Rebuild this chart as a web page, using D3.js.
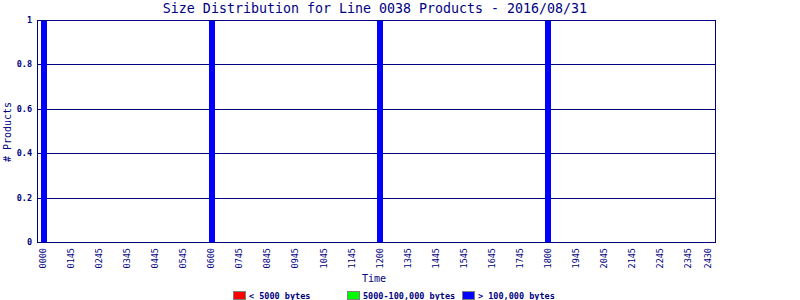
<!DOCTYPE html>
<html lang="en">
<head>
<meta charset="UTF-8">
<title>Size Distribution</title>
<script src="https://cdn.jsdelivr.net/npm/d3@7"></script>
<style>
  body { margin: 0; background: #fff; }
  text { font-family: "DejaVu Sans Mono", monospace; fill: #000080; }
</style>
</head>
<body>
<svg id="chart" width="800" height="300"></svg>
<script>
// tick labels along the time axis and the slot each one sits in
var tickLabels = ["0000","0145","0245","0345","0445","0545","0600","0745","0845","0945",
                  "1045","1145","1200","1345","1445","1545","1645","1745","1800","1945",
                  "2045","2145","2245","2345","2430"];
var tickSlots = [0,1,2,3,4,5,6,7,8,9,10,11,12,13,14,15,16,17,18,19,20,21,22,23,23.72];

// products per time slot, one array per size class
var barTimes = ["0000","0600","1200","1800"];
var small = [0,0,0,0];      // < 5000 bytes
var medium = [0,0,0,0];     // 5000-100,000 bytes
var large = [1,1,1,1];      // > 100,000 bytes

var legendNames = ["< 5000 bytes","5000-100,000 bytes","> 100,000 bytes"];
var legendColors = ["#ff0000","#00ff00","#0000ff"];
var yTicks = [0,0.2,0.4,0.6,0.8,1];

var navy = "#000080";
var svg = d3.select("#chart");
var plotLeft = 37, plotRight = 715, plotTop = 20, plotBottom = 242;

var x = d3.scaleLinear().domain([-0.24, 23.95]).range([plotLeft, plotRight]);
var y = d3.scaleLinear().domain([0, 1]).range([plotBottom, plotTop]);

// title
svg.append("text")
  .attr("x", 375).attr("y", 13)
  .attr("text-anchor", "middle")
  .style("font-size", "13.3px")
  .text("Size Distribution for Line 0038 Products - 2016/08/31");

// gridlines
svg.append("g").selectAll("line")
  .data(yTicks.filter(function(d){ return d > 0 && d < 1; }))
  .enter().append("line")
  .attr("x1", plotLeft).attr("x2", plotRight)
  .attr("y1", function(d){ return Math.round(y(d)) + 0.5; })
  .attr("y2", function(d){ return Math.round(y(d)) + 0.5; })
  .attr("stroke", navy).attr("stroke-width", 1);

// stacked bars
var rows = barTimes.map(function(t, i){
  return {time: t, small: small[i], medium: medium[i], large: large[i]};
});
var series = d3.stack().keys(["small","medium","large"])(rows);
var barW = 6;

svg.append("g").selectAll("g")
  .data(series)
  .enter().append("g")
  .attr("fill", function(d, i){ return legendColors[i]; })
  .selectAll("rect")
  .data(function(d){ return d; })
  .enter().append("rect")
  .attr("x", function(d){ return Math.round(x(tickSlots[tickLabels.indexOf(d.data.time)]) - barW / 2); })
  .attr("width", barW)
  .attr("y", function(d){ return y(d[1]); })
  .attr("height", function(d){ return y(d[0]) - y(d[1]); });

// frame
svg.append("rect")
  .attr("x", plotLeft + 0.5).attr("y", plotTop + 0.5)
  .attr("width", plotRight - plotLeft).attr("height", plotBottom - plotTop)
  .attr("fill", "none").attr("stroke", navy).attr("stroke-width", 1);

// y tick labels
svg.append("g").selectAll("text")
  .data(yTicks)
  .enter().append("text")
  .attr("x", 32)
  .attr("y", function(d){ return y(d) + 3; })
  .attr("text-anchor", "end")
  .style("font-size", "8.5px")
  .style("font-weight", "bold")
  .text(function(d){ return d3.format("~g")(d); });

// x tick labels
svg.append("g").selectAll("text")
  .data(tickLabels)
  .enter().append("text")
  .attr("transform", function(d, i){ return "translate(" + (x(tickSlots[i]) + 2.5) + ",248) rotate(-90)"; })
  .attr("text-anchor", "end")
  .style("font-size", "8.5px")
  .text(function(d){ return d; });

// axis titles
svg.append("text")
  .attr("x", 374).attr("y", 282)
  .attr("text-anchor", "middle")
  .style("font-size", "10px")
  .text("Time");

svg.append("text")
  .attr("transform", "translate(11,132) rotate(-90)")
  .attr("text-anchor", "middle")
  .style("font-size", "10px")
  .text("# Products");

// legend
var legendX = [233, 347, 462];
var legend = svg.append("g").selectAll("g")
  .data(legendNames)
  .enter().append("g")
  .attr("transform", function(d, i){ return "translate(" + legendX[i] + ",291)"; });

legend.append("rect")
  .attr("x", 0.5).attr("y", 0.5)
  .attr("width", 12).attr("height", 8)
  .attr("fill", function(d, i){ return legendColors[i]; })
  .attr("stroke", "#808080");

legend.append("text")
  .attr("x", 16).attr("y", 8)
  .style("font-size", "8.5px")
  .style("font-weight", "bold")
  .text(function(d){ return d; });
</script>
</body>
</html>
